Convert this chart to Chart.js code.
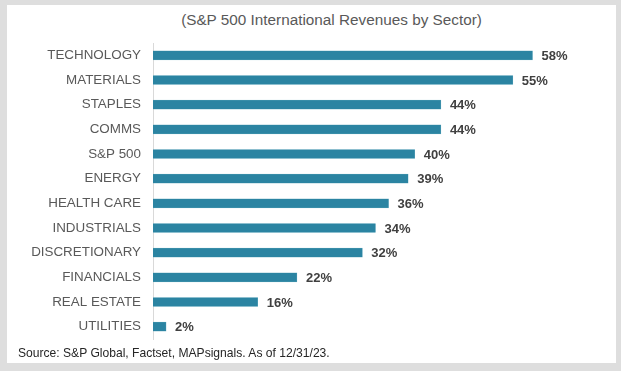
<!DOCTYPE html>
<html>
<head>
<meta charset="utf-8">
<script src="https://cdn.jsdelivr.net/npm/chart.js@4"></script>
<style>
    html, body { margin: 0; padding: 0; }
    body { width: 621px; height: 371px; background: #dedede; position: relative; overflow: hidden; font-family: "Liberation Sans", Arial, sans-serif; }
    .panel { position: absolute; left: 7px; top: 5px; width: 609px; height: 358px; background: #fff; }
    .title { position: absolute; left: 0; width: 663px; top: 11px; text-align: center; font-size: 15.3px; color: #595959; }
    .source { position: absolute; left: 18px; top: 346px; font-size: 12.1px; color: #262626; }
    #chart { position: absolute; left: 0; top: 0; }
</style>
</head>
<body>
<div class="panel"></div>
<div class="title">(S&amp;P 500 International Revenues by Sector)</div>
<canvas id="chart" width="621" height="371"></canvas>
<div class="source">Source: S&amp;P Global, Factset, MAPsignals. As of 12/31/23.</div>
<script>
// =====================================================
// DATA
// =====================================================
const sectors = ['TECHNOLOGY', 'MATERIALS', 'STAPLES', 'COMMS', 'S&P 500', 'ENERGY',
    'HEALTH CARE', 'INDUSTRIALS', 'DISCRETIONARY', 'FINANCIALS', 'REAL ESTATE', 'UTILITIES'];
const intlRevenuePct = [58, 55, 44, 44, 40, 39, 36, 34, 32, 22, 16, 2];

// value labels at the end of each bar
const barLabels = {
    id: 'barLabels',
    afterDatasetsDraw(chart) {
        const ctx = chart.ctx;
        const meta = chart.getDatasetMeta(0);
        ctx.save();
        ctx.font = 'bold 13px "Liberation Sans", Arial, sans-serif';
        ctx.fillStyle = '#404040';
        ctx.textAlign = 'left';
        ctx.textBaseline = 'middle';
        meta.data.forEach((bar, i) => {
            ctx.fillText(intlRevenuePct[i] + '%', bar.x + 9, bar.y + 1);
        });
        ctx.restore();
    }
};

const ctx = document.getElementById('chart').getContext('2d');
new Chart(ctx, {
    type: 'bar',
    data: {
        labels: sectors,
        datasets: [{
            data: intlRevenuePct,
            backgroundColor: '#2b84a2',
            borderColor: '#5fa6bd',
            borderWidth: 0.5,
            barThickness: 9
        }]
    },
    options: {
        indexAxis: 'y',
        responsive: false,
        animation: false,
        layout: { padding: { top: 43, bottom: 32, left: 0, right: 10 } },
        plugins: { legend: { display: false }, tooltip: { enabled: false } },
        scales: {
            x: { display: false, min: 0, max: 70 },
            y: {
                grid: { display: false, drawTicks: false },
                border: { display: true, color: '#d9d9d9', width: 1 },
                ticks: {
                    padding: 12,
                    color: '#595959',
                    font: { family: '"Liberation Sans", Arial, sans-serif', size: 13.4 }
                },
                afterFit: scale => { scale.width = 153; }
            }
        }
    },
    plugins: [barLabels]
});
</script>
</body>
</html>
